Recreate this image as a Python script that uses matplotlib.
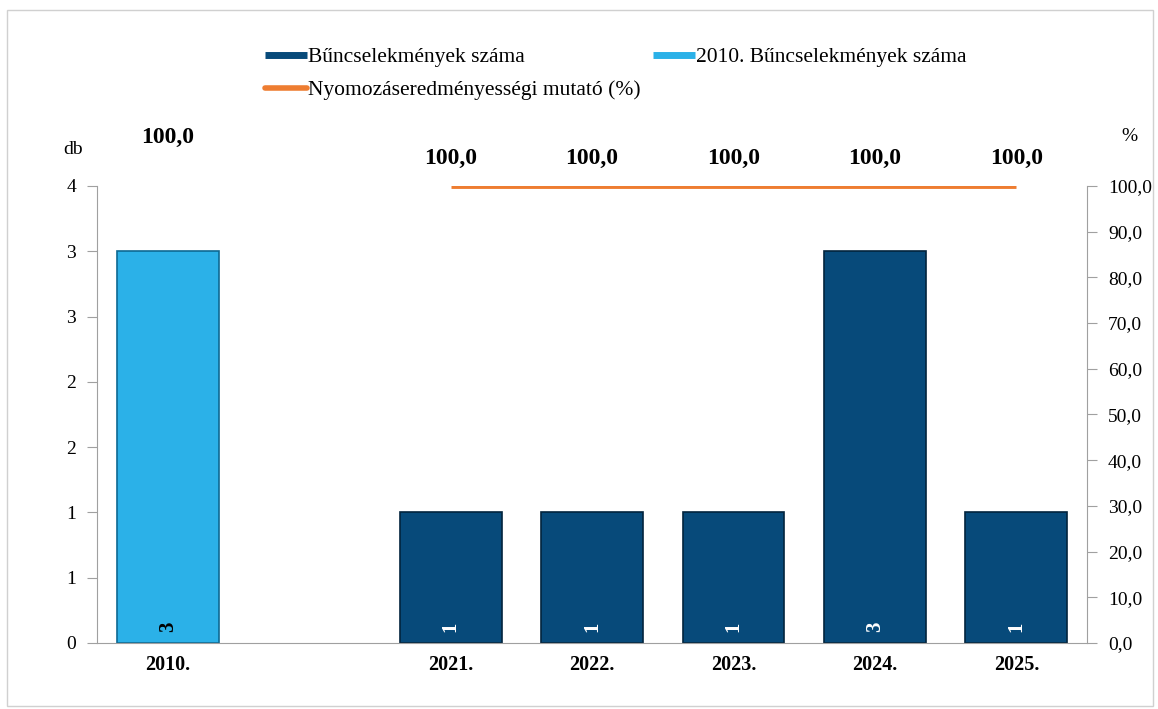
import numpy as np
import matplotlib.pyplot as plt
from matplotlib.lines import Line2D
from matplotlib.patches import Rectangle
from matplotlib.ticker import FuncFormatter

plt.rcParams['font.family'] = ['Liberation Serif', 'DejaVu Serif']

years = ["2010.", "", "2021.", "2022.", "2023.", "2024.", "2025."]
crimes = [np.nan, np.nan, 1, 1, 1, 3, 1]
crimes_2010 = [3, np.nan, np.nan, np.nan, np.nan, np.nan, np.nan]
rate = [np.nan, np.nan, 100, 100, 100, 100, 100]
rate_2010 = 100.0

dark = "#074a7a"
light = "#2bb1e8"
orange = "#ee7d31"

fig = plt.figure(figsize=(11.58, 7.09), dpi=100)
fig.patches.append(Rectangle((0.006, 0.004), 0.99, 0.982, transform=fig.transFigure,
                             fill=False, edgecolor="#d0d0d0", linewidth=1))
ax = fig.add_axes([0.0838, 0.0931, 0.855, 0.6446])
x = np.arange(len(years))

ax.bar(x, crimes, width=0.72, color=dark, edgecolor="#02243d", linewidth=1.2)
ax.bar(x, crimes_2010, width=0.72, color=light, edgecolor="#0d6a93", linewidth=1.2)

for i in range(len(years)):
    for vals, col in ((crimes, "white"), (crimes_2010, "black")):
        if not np.isnan(vals[i]):
            ax.text(x[i], 0.085, f"{vals[i]:.0f}", rotation=90, ha="center", va="bottom",
                    color=col, fontsize=15, fontweight="bold")

ax.set_ylim(0, 3.5)
ax.set_yticks(np.arange(0, 3.51, 0.5))
ax.yaxis.set_major_formatter(FuncFormatter(lambda v, p: str(int(np.floor(v + 0.5)))))
ax.set_xlim(-0.5, len(years) - 0.5)
ax.set_xticks(x)
ax.set_xticklabels(years, fontweight="bold", fontsize=14.5)
ax.tick_params(axis="x", length=0, pad=9)
ax.tick_params(axis="y", labelsize=14, length=7, color="#a0a0a0", pad=8)
for s in ["top", "right"]:
    ax.spines[s].set_visible(False)
ax.spines["left"].set_color("#a0a0a0")
ax.spines["bottom"].set_color("#a0a0a0")

ax2 = ax.twinx()
ax2.plot(x, rate, color=orange, linewidth=3.5, solid_capstyle="butt")
ax2.set_ylim(0, 100)
ax2.set_yticks(np.arange(0, 101, 10))
ax2.yaxis.set_major_formatter(FuncFormatter(lambda v, p: f"{v:.1f}".replace(".", ",")))
ax2.tick_params(axis="y", labelsize=14, length=7, color="#a0a0a0", pad=8)
for s in ["top", "left", "bottom"]:
    ax2.spines[s].set_visible(False)
ax2.spines["right"].set_color("#a0a0a0")

for i in range(len(years)):
    if not np.isnan(rate[i]):
        ax2.annotate(f"{rate[i]:.1f}".replace(".", ","), (x[i], rate[i]), xytext=(0, 20),
                     textcoords="offset points", ha="center", va="center",
                     fontsize=17, fontweight="bold", annotation_clip=False)
ax2.annotate(f"{rate_2010:.1f}".replace(".", ","), (x[0], rate_2010), xytext=(0, 35),
             textcoords="offset points", ha="center", va="center",
             fontsize=17, fontweight="bold", annotation_clip=False)

fig.text(0.063, 0.789, "db", fontsize=14, ha="center", va="center")
fig.text(0.975, 0.807, "%", fontsize=14, ha="center", va="center")

handles = [Line2D([], [], color=dark, linewidth=5, solid_capstyle="butt"),
           Line2D([], [], color=orange, linewidth=4, solid_capstyle="round"),
           Line2D([], [], color=light, linewidth=5, solid_capstyle="butt")]
labels = ["Bűncselekmények száma", "Nyomozáseredményességi mutató (%)",
          "2010. Bűncselekmények száma"]
fig.legend(handles, labels, ncol=2, loc="upper left", bbox_to_anchor=(0.214, 0.958),
           frameon=False, fontsize=15.5, handlelength=1.95, handletextpad=0.05,
           columnspacing=0.55, labelspacing=0.62, borderpad=0.3)

fig.savefig("out.png", dpi=100)
